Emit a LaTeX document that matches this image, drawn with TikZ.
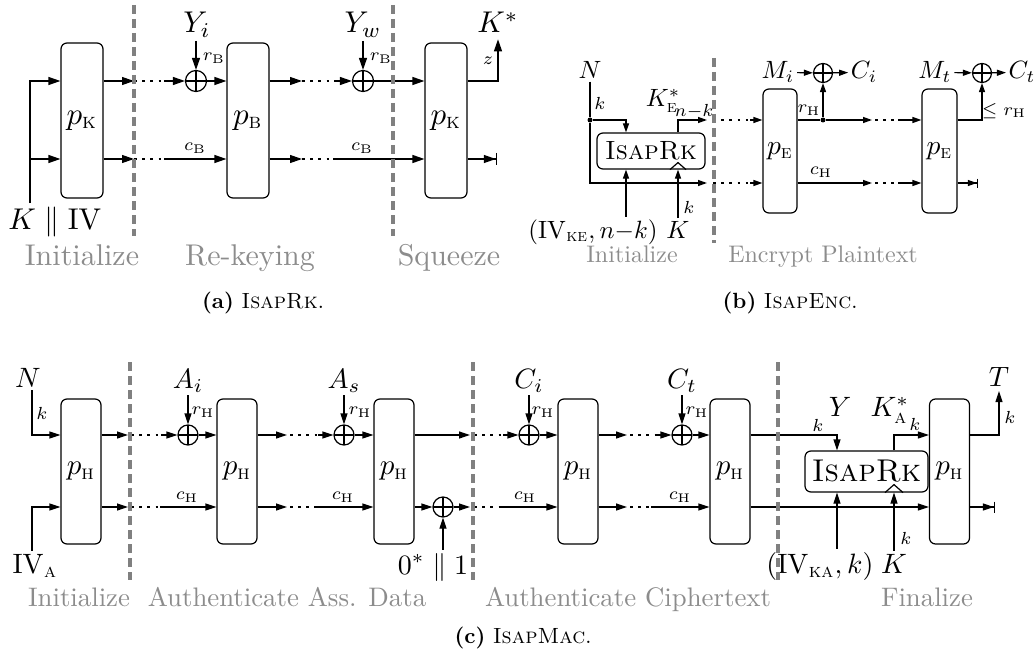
\documentclass[tikz,border=0pt]{standalone}
\usepackage{amsmath,amssymb}
\usepackage{tikz}
\usetikzlibrary{arrows.meta,calc}
\tikzset{
  perm/.style ={draw,rounded corners=6pt,inner sep=0pt},
  rkbox/.style={draw,rounded corners=6pt,inner sep=0pt},
  xor/.style  ={circle,draw,inner sep=0pt,minimum size=#1,
                path picture={\draw (path picture bounding box.north) -- (path picture bounding box.south)
                (path picture bounding box.west) -- (path picture bounding box.east);}},
  jdot/.style ={circle,fill,inner sep=0pt,minimum size=5pt},
  dots/.style ={line width=2.4pt,dash pattern=on 2.6pt off 5.6pt},
  phase/.style={draw=black!50,line width=3.2pt,dash pattern=on 9pt off 5pt},
  stage/.style={text=black!45,inner sep=0pt,anchor=base},
  capt/.style ={scale=2.2,inner sep=0pt},
}

\begin{document}
\begin{tikzpicture}[x=1pt,y=-1pt,line width=1.2pt]
\useasboundingbox (0,0) rectangle (1036,666);

% (a) IsapRk
\begin{scope}[>={Triangle[length=12pt,width=8pt]},
  endbar/.style={-{Triangle[length=12pt,width=8pt]Bar[width=12pt]}},
  big/.style={scale=3,inner sep=0.5pt}, sml/.style={scale=2.5,font=\scriptsize,inner sep=0.5pt},
  gry/.style={stage,scale=3}]
\node[perm,minimum width=42pt,minimum height=155pt,label={[scale=3.1]center:$p_{\textsc{k}}$}] (KA) at (82,120.5) {};
\node[perm,minimum width=42pt,minimum height=155pt,label={[scale=3.1]center:$p_{\textsc{b}}$}] (BA) at (248,120.5) {};
\node[perm,minimum width=42pt,minimum height=155pt,label={[scale=3.1]center:$p_{\textsc{k}}$}] (KZ) at (446,120.5) {};
\node[xor=21pt] (XA1) at (196,81) {};
\node[xor=21pt] (XA2) at (363,81) {};

\node[big,anchor=base] (Yi) at (197,33) {$Y_i$};
\node[big,anchor=base] (Yw) at (363,33) {$Y_w$};
\node[big,anchor=base] (Kst) at (498,33) {$K^*$};
\node[big,anchor=base] (KIV) at (55,229) {$K\parallel\mathrm{IV}$};
\node[sml] (rBa1) at (214,58) {$r_{\mathrm{B}}$};
\node[sml] (rBa2) at (381,58) {$r_{\mathrm{B}}$};
\node[sml] (cBa1) at (195,148) {$c_{\mathrm{B}}$};
\node[sml] (cBa2) at (362,148) {$c_{\mathrm{B}}$};
\node[sml] (za) at (488,61) {$z$};

\coordinate (kin) at (30,203);
\coordinate (ta1) at (134,81);  \coordinate (ta2) at (164,81);
\coordinate (ta3) at (302,81);  \coordinate (ta4) at (334,81);
\coordinate (ba1) at (134,159); \coordinate (ba2) at (164,159);
\coordinate (ba3) at (302,159); \coordinate (ba4) at (333,159);
\coordinate (enda) at (497,159);

\draw[->] (kin) |- (KA.west |- ta1);
\draw[->] (kin |- ba1) -- (KA.west |- ba1);
\draw[->] (KA.east |- ta1) -- (ta1);
\draw[dots] (ta1) -- (ta2);
\draw[->] (ta2) -- (XA1);
\draw[->] (XA1) -- (BA.west |- XA1);
\draw[->] (BA.east |- ta3) -- (ta3);
\draw[dots] (ta3) -- (ta4);
\draw[->] (ta4) -- (XA2);
\draw[->] (XA2) -- (KZ.west |- XA2);
\draw[->] (KA.east |- ba1) -- (ba1);
\draw[dots] (ba1) -- (ba2);
\draw[->] (ba2) -- (BA.west |- ba2);
\draw[->] (BA.east |- ba3) -- (ba3);
\draw[dots] (ba3) -- (ba4);
\draw[->] (ba4) -- (KZ.west |- ba4);
\draw[->] (Yi.south -| XA1) -- (XA1);
\draw[->] (Yw.south -| XA2) -- (XA2);
\draw[->,shorten >=3pt] (KZ.east |- ta1) -| (Kst.south);
\draw[endbar] (KZ.east |- ba1) -- (enda);

\draw[phase] (134,5) -- (134,236);
\draw[phase] (393,5) -- (393,236);
\node[gry] (inia) at (82,265) {Initialize};
\node[gry] (reka) at (250,265) {Re-keying};
\node[gry] (sqza) at (449,265) {Squeeze};
\node[capt] (capa) at (263,303) {\textbf{(a)} \textsc{IsapRk}.};
\end{scope}

% (b) IsapEnc
\begin{scope}[>={Triangle[length=9pt,width=6pt]},
  endbar/.style={-{Triangle[length=9pt,width=6pt]Bar[width=9pt]}},
  big/.style={scale=2.5,inner sep=0.5pt}, sml/.style={scale=2.5,font=\scriptsize,inner sep=0.5pt},
  gry/.style={stage,scale=2.4}]
\node[perm,minimum width=34pt,minimum height=124pt,label={[scale=2.75]center:$p_{\textsc{e}}$}] (EB1) at (780,151) {};
\node[perm,minimum width=35pt,minimum height=124pt,label={[scale=2.75]center:$p_{\textsc{e}}$}] (EB2) at (939.5,151) {};
\node[rkbox,minimum width=108pt,minimum height=36pt,label={[scale=2.64]center:\textsc{IsapRk}}] (RKB) at (651,151) {};
\node[xor=19pt] (XB1) at (823,73) {};
\node[xor=19pt] (XB2) at (982,73) {};
\node[jdot] (jb1) at (590,120) {};
\node[jdot] (jb2) at (823,120) {};

\node[big,anchor=base] (Nb) at (590,79) {$N$};
\node[big,anchor=base] (Mi) at (778,79) {$M_i$};
\node[big,anchor=base] (Ci) at (864,79) {$C_i$};
\node[big,anchor=base] (Mt) at (935,79) {$M_t$};
\node[big,anchor=base] (Ct) at (1022,79) {$C_t$};
\node[big,anchor=base] (ivke) at (593,238) {$(\mathrm{IV}_{\textsc{ke}},n{-}k)$};
\node[big,anchor=base] (Kb) at (678,238) {$K$};
\node[big] (KEb) at (663,101) {$K^*_{\textsc{e}}$};
\node[sml] (nkb) at (694,111) {$n{-}k$};
\node[sml] (kb1) at (600,103) {$k$};
\node[sml] (kb2) at (689,207) {$k$};
\node[sml] (rHb) at (809,110) {$r_{\mathrm{H}}$};
\node[sml] (cHb) at (821,172) {$c_{\mathrm{H}}$};
\node[sml] (lrHb) at (1004,111) {$\leq r_{\mathrm{H}}$};

\coordinate (rkin) at (626,120);
\coordinate (tb1) at (707,120); \coordinate (tb2) at (713,120); \coordinate (tb3) at (750,120);
\coordinate (tb4) at (872,120); \coordinate (tb5) at (875,120); \coordinate (tb6) at (898,120);
\coordinate (bb1) at (707,183); \coordinate (bb2) at (713,183); \coordinate (bb3) at (750,183);
\coordinate (bb4) at (872,183); \coordinate (bb5) at (875,183); \coordinate (bb6) at (898,183);
\coordinate (endb) at (978,183);

\draw (Nb.south) -- (jb1);
\draw[->] (jb1) |- (bb1);
\draw[->] (jb1) -| (RKB.north -| rkin);
\draw[->] (ivke.north -| rkin) -- (RKB.south -| rkin);
\draw[->] (Kb.north) -- (Kb.north |- RKB.south);
\draw (RKB.south -| Kb) ++(-8,0) -- ++(8,-7) -- ++(8,7);
\draw[->] (RKB.north -| Kb) |- (tb1);
\draw[dots] (tb2) -- (tb3);
\draw[->] (tb3) -- (EB1.west |- tb3);
\draw[dots] (bb2) -- (bb3);
\draw[->] (bb3) -- (EB1.west |- bb3);
\draw (EB1.east |- jb2) -- (jb2);
\draw[->] (jb2) -- (tb4);
\draw[dots] (tb5) -- (tb6);
\draw[->] (tb6) -- (EB2.west |- tb6);
\draw[->] (jb2) -- (XB1);
\draw[->] (Mi) -- (XB1);
\draw[->] (XB1) -- (Ci);
\draw[->] (EB1.east |- bb4) -- (bb4);
\draw[dots] (bb5) -- (bb6);
\draw[->] (bb6) -- (EB2.west |- bb6);
\draw[->] (EB2.east |- tb1) -| (XB2);
\draw[->] (Mt) -- (XB2);
\draw[->] (XB2) -- (Ct);
\draw[endbar] (EB2.east |- bb1) -- (endb);

\draw[phase] (714,58) -- (714,243);
\node[gry] (inib) at (632,262) {Initialize};
\node[gry] (encb) at (823,262) {Encrypt Plaintext};
\node[capt] (capb) at (790,303) {\textbf{(b)} \textsc{IsapEnc}.};
\end{scope}

% (c) IsapMac
\begin{scope}[>={Triangle[length=11pt,width=7pt]},
  endbar/.style={-{Triangle[length=11pt,width=7pt]Bar[width=11pt]}},
  big/.style={scale=2.8,inner sep=0.5pt}, sml/.style={scale=2.5,font=\scriptsize,inner sep=0.5pt},
  gry/.style={stage,scale=2.68}]
\foreach \n/\x in {1/81,2/237,3/394,4/578,5/730,6/949.5}
  \node[perm,minimum width=40pt,minimum height=145pt,label={[scale=2.9]center:$p_{\textsc{h}}$}] (H\n) at (\x,471.5) {};
\node[rkbox,minimum width=123pt,minimum height=41pt,label={[scale=3.15]center:\textsc{IsapRk}}] (RKC) at (866.5,471.5) {};
\node[xor=20pt] (XC1) at (188,435) {};
\node[xor=20pt] (XC2) at (344,435) {};
\node[xor=20pt] (XC3) at (443,507) {};
\node[xor=20pt] (XC4) at (529,435) {};
\node[xor=20pt] (XC5) at (682,435) {};

\node[big,anchor=base] (Nc) at (28,387) {$N$};
\node[big,anchor=base] (Ai) at (188,388) {$A_i$};
\node[big,anchor=base] (As) at (344,388) {$A_s$};
\node[big,anchor=base] (Cic) at (529,388) {$C_i$};
\node[big,anchor=base] (Ctc) at (682,388) {$C_t$};
\node[big,anchor=base] (Tc) at (999,386) {$T$};
\node[big,anchor=base] (IVA) at (35,573) {$\mathrm{IV}_{\textsc{a}}$};
\node[big,anchor=base] (zero) at (433,574) {$0^*\parallel 1$};
\node[big,anchor=base] (ivka) at (820,573) {$(\mathrm{IV}_{\textsc{ka}},k)$};
\node[big,anchor=base] (Kc) at (894,573) {$K$};
\node[big] (Yc) at (840,407) {$Y$};
\node[big] (KAc) at (890,410) {$K^*_{\textsc{a}}$};
\node[sml] (kc1) at (42,413) {$k$};
\node[sml] (kc2) at (818,425) {$k$};
\node[sml] (kc3) at (915,424) {$k$};
\node[sml] (kc4) at (906,538) {$k$};
\node[sml] (kc5) at (1010,417) {$k$};
\foreach \x [count=\i] in {203,360,543,697}
  \node[sml] (rHc\i) at (\x,412) {$r_{\mathrm{H}}$};
\foreach \x [count=\i] in {187,343,525,680}
  \node[sml] (cHc\i) at (\x,497) {$c_{\mathrm{H}}$};

\coordinate (cin) at (32,435);
\coordinate (ivc) at (837,435);
\coordinate (tc1) at (128,435); \coordinate (tc2) at (131,435); \coordinate (tc3) at (161,435);
\coordinate (tc4) at (287,435); \coordinate (tc5) at (290,435); \coordinate (tc6) at (318,435);
\coordinate (tc7) at (470,435); \coordinate (tc8) at (474,435); \coordinate (tc9) at (503,435);
\coordinate (tc10) at (627,435); \coordinate (tc11) at (630,435); \coordinate (tc12) at (656,435);
\coordinate (bc1) at (128,507); \coordinate (bc2) at (131,507); \coordinate (bc3) at (160,507);
\coordinate (bc4) at (287,507); \coordinate (bc5) at (290,507); \coordinate (bc6) at (314,507);
\coordinate (bc7) at (470,507); \coordinate (bc8) at (474,507); \coordinate (bc9) at (500,507);
\coordinate (bc10) at (627,507); \coordinate (bc11) at (630,507); \coordinate (bc12) at (651,507);
\coordinate (endc) at (995,507);

\draw[->] (Nc.south -| cin) |- (H1.west |- cin);
\draw[->] (IVA.north -| cin) |- (H1.west |- bc1);
\draw[->] (H1.east |- tc1) -- (tc1);
\draw[dots] (tc2) -- (tc3);
\draw[->] (tc3) -- (XC1);
\draw[->] (XC1) -- (H2.west |- XC1);
\draw[->] (H2.east |- tc4) -- (tc4);
\draw[dots] (tc5) -- (tc6);
\draw[->] (tc6) -- (XC2);
\draw[->] (XC2) -- (H3.west |- XC2);
\draw[->] (H3.east |- tc7) -- (tc7);
\draw[dots] (tc8) -- (tc9);
\draw[->] (tc9) -- (XC4);
\draw[->] (XC4) -- (H4.west |- XC4);
\draw[->] (H4.east |- tc10) -- (tc10);
\draw[dots] (tc11) -- (tc12);
\draw[->] (tc12) -- (XC5);
\draw[->] (XC5) -- (H5.west |- XC5);
\draw[->] (H5.east |- ivc) -| (RKC.north -| ivc);

\draw[->] (H1.east |- bc1) -- (bc1);
\draw[dots] (bc2) -- (bc3);
\draw[->] (bc3) -- (H2.west |- bc3);
\draw[->] (H2.east |- bc4) -- (bc4);
\draw[dots] (bc5) -- (bc6);
\draw[->] (bc6) -- (H3.west |- bc6);
\draw[->] (H3.east |- XC3) -- (XC3);
\draw[->] (XC3) -- (bc7);
\draw[dots] (bc8) -- (bc9);
\draw[->] (bc9) -- (H4.west |- bc9);
\draw[->] (H4.east |- bc10) -- (bc10);
\draw[dots] (bc11) -- (bc12);
\draw[->] (bc12) -- (H5.west |- bc12);
\draw[->] (H5.east |- XC3) -- (H6.west |- XC3);

\draw[->] (Ai.south -| XC1) -- (XC1);
\draw[->] (As.south -| XC2) -- (XC2);
\draw[->] (Cic.south -| XC4) -- (XC4);
\draw[->] (Ctc.south -| XC5) -- (XC5);
\draw[->] (zero.north -| XC3) -- (XC3);
\draw[->] (ivka.north -| ivc) -- (RKC.south -| ivc);
\draw[->] (Kc.north) -- (Kc.north |- RKC.south);
\draw (RKC.south -| Kc) ++(-9,0) -- ++(9,-8) -- ++(9,8);
\draw[->] (RKC.north -| Kc) |- (H6.west |- ivc);
\draw[->,shorten >=2pt] (H6.east |- ivc) -| (Tc.south);
\draw[endbar] (H6.east |- XC3) -- (endc);

\foreach \x in {130,473,778}
  \draw[phase] (\x,362) -- (\x,580);
\node[gry] (inic) at (79,606) {Initialize};
\node[gry] (aadc) at (287,606) {Authenticate Ass. Data};
\node[gry] (actc) at (628,606) {Authenticate Ciphertext};
\node[gry] (finc) at (927,606) {Finalize};
\node[capt] (capc) at (523,638) {\textbf{(c)} \textsc{IsapMac}.};
\end{scope}
\end{tikzpicture}
\end{document}
